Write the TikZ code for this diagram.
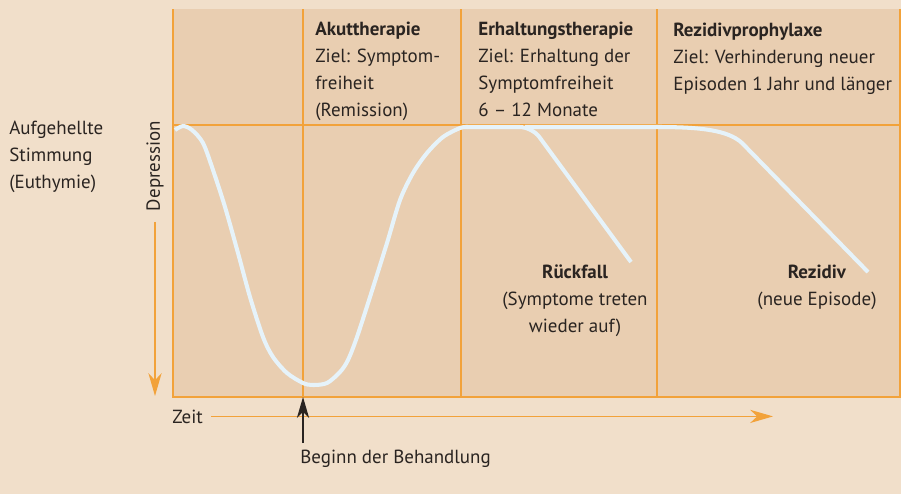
\documentclass[tikz,border=0pt]{standalone}
\usepackage{fontspec}
\setmainfont{PT Sans}
\usetikzlibrary{arrows.meta,positioning}
\definecolor{pagebg}{HTML}{F1DFCA}
\definecolor{phasebg}{HTML}{E9CEB1}
\definecolor{axisorange}{HTML}{F2A23A}
\definecolor{tiporange}{HTML}{F39A1E}
\definecolor{moodline}{HTML}{E6F3FA}
\definecolor{ink}{HTML}{2A2421}

\begin{document}
\begin{tikzpicture}[
  x=0.02cm, y=-0.02cm,
  txt/.style={inner sep=0pt, align=left, font=\fontsize{10.8}{15.3}\selectfont, text=ink},
  phasetxt/.style={txt, anchor=base west},
  resulttxt/.style={txt, align=center, anchor=base},
  phaseline/.style={draw=axisorange, line width=0.8pt},
  moodcurve/.style={draw=moodline, line width=2.3pt},
  axisarr/.style={-{Stealth[length=13pt, width=7.5pt, inset=4pt]}, axisorange, line width=0.9pt},
  startarr/.style={-{Stealth[length=12pt, width=7pt, inset=3.5pt]}, ink, line width=0.8pt},
]
% Background
\fill[pagebg] (0,0) rectangle (901,494);
\fill[phasebg] (173,9) rectangle (900,397);
\useasboundingbox (0,0) rectangle (901,494);

% Phase lines
\draw[phaseline] (173,9) -- (173,397) -- (900,397) -- (900,9);
\draw[phaseline] (173,125) -- (900,125);
\foreach \x in {303,461,657} \draw[phaseline] (\x,9) -- (\x,397);

% Mood curve
\draw[moodcurve] plot[smooth, tension=0.5] coordinates {
  (175,130) (183,126) (192,130) (203,143) (213,170) (225,207) (238,253)
  (250,297) (263,337) (273,357) (287,373) (303,383) (313,385) (327,383)
  (340,372) (348,360) (357,337) (370,297) (387,243) (400,200) (413,173)
  (427,153) (443,137) (460,128) (468,127)};
\draw[moodcurve, rounded corners=7pt] (466,127) -- (532,127) -- (631,262);
\draw[moodcurve] (525,127) -- (657,127) .. controls (700,127) and (728,130) .. (742,143) -- (868,272);

% Phase texts (base = last line)
\node[txt, anchor=base west] (euthymie) at (9,188) {Aufgehellte\\Stimmung\\(Euthymie)};
\node[phasetxt] (akut) at (315,116) {\textbf{Akuttherapie}\\Ziel: Symptom-\\freiheit\\(Remission)};
\node[phasetxt] (erhaltung) at (478,116) {\textbf{Erhaltungstherapie}\\Ziel: Erhaltung der\\Symptomfreiheit\\6 -- 12 Monate};
\node[phasetxt] (prophylaxe) at (673,90) {\textbf{Rezidivprophylaxe}\\Ziel: Verhinderung neuer\\Episoden 1 Jahr und länger};
\node[resulttxt] (rueckfall) at (575,332) {\textbf{Rückfall}\\(Symptome treten\\wieder auf)};
\node[resulttxt] (rezidiv) at (817,305) {\textbf{Rezidiv}\\(neue Episode)};

% Axes
\node[txt, rotate=90] (depression) at (155,166) {Depression};
\coordinate (depend) at (155,396);
\draw[axisarr, shorten <=6pt] (depression.west) -- (depend);
\node[txt, anchor=base west] (zeit) at (172,423) {Zeit};
\coordinate (zeitend) at (773,416.5);
\draw[axisarr, shorten <=4.5pt] (zeit.east) -- (zeit.east -| zeitend);

% Start of treatment
\coordinate (treatstart) at (303,397);
\node[txt, anchor=base west] (beginn) at (300,463) {Beginn der Behandlung};
\draw[startarr, shorten <=3.5pt] (beginn.north -| treatstart) -- (treatstart);
\end{tikzpicture}
\end{document}
